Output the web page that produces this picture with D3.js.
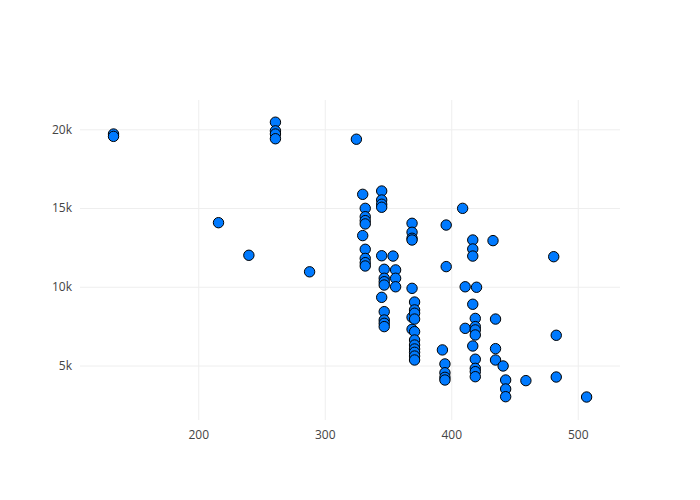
<!DOCTYPE html>
<html>
<head>
<meta charset="utf-8">
<script src="https://cdn.jsdelivr.net/npm/d3@7"></script>
<style>
  body { margin: 0; background: #fff; }
  .tick text { font-family: "Open Sans", sans-serif; font-size: 12px; fill: #444; }
</style>
</head>
<body>
<svg width="700" height="500"></svg>
<script>
var xValues = [
  133, 133,
  216, 240,
  261, 261, 261, 261,
  288, 325,
  330, 330,
  332, 332, 332, 332, 332, 332, 332, 332,
  345, 345, 345, 345, 345, 345,
  347, 347, 347, 347, 347, 347, 347, 347,
  354,
  356, 356, 356,
  369, 369, 369, 369, 369, 369, 369,
  371, 371, 371, 371, 371, 371, 371, 371, 371, 371, 371,
  393,
  395, 395, 395, 395,
  396, 396,
  409,
  411, 411,
  417, 417, 417, 417, 417,
  419, 419, 419, 419, 419, 419, 419, 419,
  420, 433,
  435, 435, 435,
  441,
  443, 443, 443,
  459, 481, 483, 483, 507
];
var yValues = [
  19700, 19550,
  14070, 12000,
  20450, 19900, 19700, 19400,
  10950, 19370,
  15870, 13250,
  14980, 14450, 14200, 13990, 12380, 11800, 11530, 11320,
  16080, 15510, 15240, 15050, 11970, 9330,
  11110, 10540, 10320, 10110, 8420, 7890, 7680, 7470,
  11950,
  11070, 10540, 10000,
  14030, 13460, 13080, 12970, 9900, 8060, 7300,
  9030, 8530, 8320, 7950, 7150, 6620, 6300, 6050, 5840, 5600, 5350,
  5990,
  5100, 4540, 4250, 4080,
  13920, 11280,
  14980,
  10000, 7360,
  12970, 12400, 11950, 8890, 6240,
  7990, 7470, 7260, 6940, 5400, 4820, 4610, 4290,
  9970, 12930,
  7950, 6070, 5350,
  4970,
  4080, 3510, 3020,
  4040, 11910, 6920, 4270, 3000
];
var xTicks = [200, 300, 400, 500];
var yTicks = [5000, 10000, 15000, 20000];

var svg = d3.select('svg');
var margin = {t: 100, r: 80, b: 80, l: 80};
var width = +svg.attr('width') - margin.l - margin.r;
var height = +svg.attr('height') - margin.t - margin.b;

var xScale = d3.scaleLinear().domain([106.5, 533.4]).range([0, width]);
var yScale = d3.scaleLinear().domain([1540, 21860]).range([height, 0]);

var chartG = svg.append('g')
    .attr('transform', 'translate(' + [margin.l, margin.t] + ')');

var xAxis = chartG.append('g')
    .attr('transform', 'translate(0,' + height + ')')
    .call(d3.axisBottom(xScale).tickValues(xTicks).tickSize(-height).tickPadding(10));

var yAxis = chartG.append('g')
    .call(d3.axisLeft(yScale).tickValues(yTicks).tickSize(-width).tickPadding(8)
        .tickFormat(function(d) { return (d / 1000) + 'k'; }));

[xAxis, yAxis].forEach(function(ax) {
    ax.select('.domain').remove();
    ax.selectAll('.tick line').attr('stroke', '#eee').attr('stroke-width', 1);
});

chartG.append('g')
    .selectAll('circle')
    .data(xValues)
    .enter()
    .append('circle')
    .attr('cx', function(d) { return xScale(d); })
    .attr('cy', function(d, i) { return yScale(yValues[i]); })
    .attr('r', 5.2)
    .attr('fill', 'rgb(0,122,255)')
    .attr('stroke', '#000')
    .attr('stroke-width', 1);
</script>
</body>
</html>
